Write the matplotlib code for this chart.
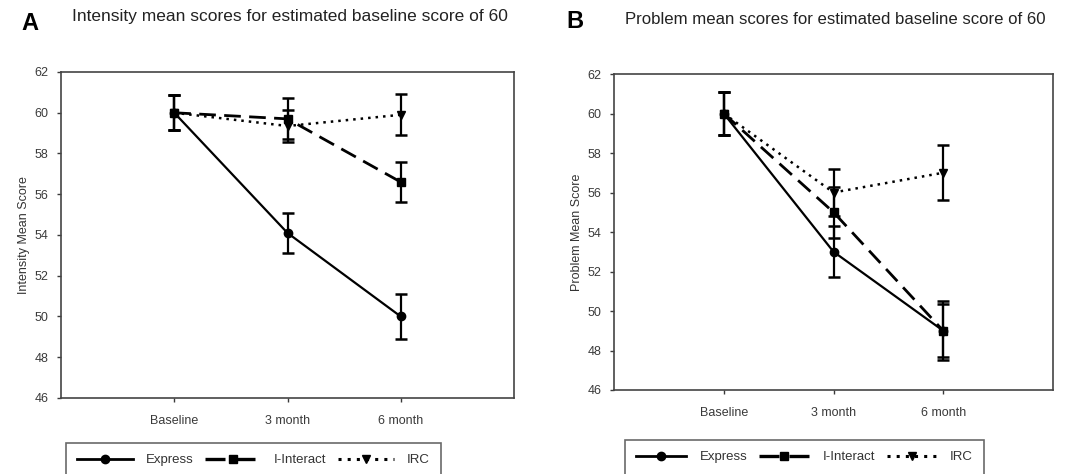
import numpy as np
import matplotlib
matplotlib.use('Agg')
import matplotlib.pyplot as plt
from matplotlib.lines import Line2D

plt.rcParams['font.family'] = ['Liberation Sans', 'DejaVu Sans']

# %% data
timepoints = ['Baseline', '3 month', '6 month']
groups = ['Express', 'I-Interact', 'IRC']

intensity_mean = {
    'Express': [60.0, 54.1, 50.0],
    'I-Interact': [60.0, 59.7, 56.6],
    'IRC': [60.0, 59.35, 59.9],
}
intensity_err = {
    'Express': [0.85, 1.0, 1.1],
    'I-Interact': [0.85, 1.0, 1.0],
    'IRC': [0.85, 0.8, 1.0],
}

problem_mean = {
    'Express': [60.0, 53.0, 49.0],
    'I-Interact': [60.0, 55.0, 49.0],
    'IRC': [60.0, 56.0, 57.0],
}
problem_err = {
    'Express': [1.1, 1.3, 1.5],
    'I-Interact': [1.1, 1.3, 1.35],
    'IRC': [1.1, 1.2, 1.4],
}

styles = {
    'Express': dict(ls='-', marker='o', lw=1.6),
    'I-Interact': dict(ls=(0, (6, 3)), marker='s', lw=2.0),
    'IRC': dict(ls=(0, (1, 2)), marker='v', lw=1.8),
}

x = np.arange(1, len(timepoints) + 1)
W, H = 1088, 474


def panel(rect, means, errs, ylabel, letter, title, letter_xy, title_xy,
          leg_xy, title_size, handle_len):
    l, r, t, b = rect
    ax = fig.add_axes([l / W, (H - b) / H, (r - l) / W, (b - t) / H])
    handles = []
    for g in groups:
        st = styles[g]
        ax.errorbar(x, means[g], yerr=errs[g], color='black', ls=st['ls'],
                    lw=st['lw'], marker=st['marker'], markersize=6,
                    elinewidth=1.6, capsize=4.5, capthick=1.8,
                    dash_capstyle='butt')
        handles.append(Line2D([], [], color='black', ls=st['ls'], lw=st['lw'] + 0.4,
                              marker=st['marker'], markersize=6, label=g))
    ax.set_xlim(0, 4)
    ax.set_ylim(46, 62)
    ax.set_yticks(np.arange(46, 63, 2))
    ax.set_xticks(x)
    ax.set_xticklabels(timepoints)
    ax.tick_params(labelsize=9, colors='#3a3a3a', length=3, width=1, pad=6)
    ax.tick_params(axis='x', pad=9)
    for s in ax.spines.values():
        s.set_color('#444444')
        s.set_linewidth(1.2)
    ax.set_ylabel(ylabel, fontsize=9, color='#333333', labelpad=3)

    fig.text(letter_xy[0] / W, 1 - letter_xy[1] / H, letter, fontsize=17,
             fontweight='bold', ha='left', va='center')
    fig.text(title_xy[0] / W, 1 - title_xy[1] / H, title, fontsize=title_size,
             color='#222222', ha='left', va='center')

    leg = fig.legend(handles=handles, loc='upper left',
                     bbox_to_anchor=(leg_xy[0] / W, 1 - leg_xy[1] / H),
                     ncol=3, fontsize=9.5, frameon=True, fancybox=False,
                     handlelength=handle_len, handletextpad=1.0, columnspacing=0.9,
                     borderpad=0.85, borderaxespad=0)
    leg.get_frame().set_edgecolor('#444444')
    leg.get_frame().set_linewidth(1.2)
    for txt in leg.get_texts():
        txt.set_color('#333333')
    return ax


fig = plt.figure(figsize=(W / 100, H / 100), dpi=100)

panel((61, 514, 72, 398), intensity_mean, intensity_err,
      'Intensity Mean Score', 'A',
      'Intensity mean scores for estimated baseline score of 60',
      (21, 23), (72, 16), (66, 443), 12.5, 4.2)

panel((614, 1053, 74, 390), problem_mean, problem_err,
      'Problem Mean Score', 'B',
      'Problem mean scores for estimated baseline score of 60',
      (566, 22), (625, 20), (625, 440), 12.1, 3.8)

plt.savefig('out.png', dpi=100)
